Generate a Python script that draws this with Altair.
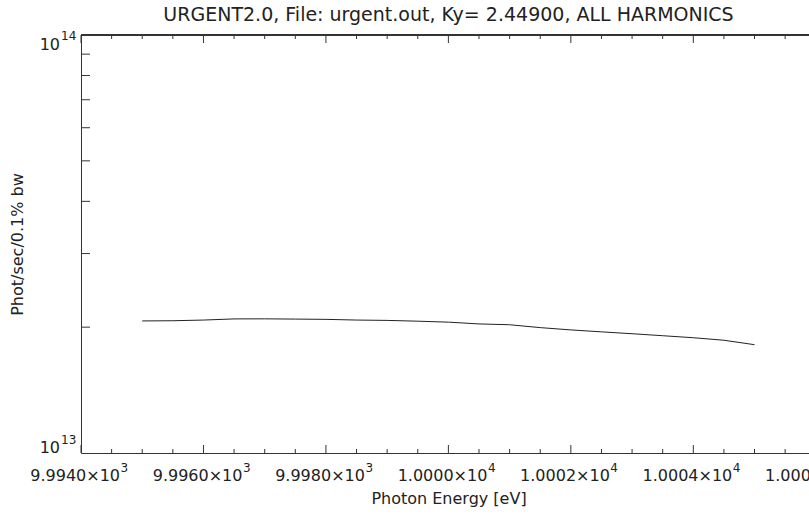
import altair as alt
import pandas as pd

# ---- data ----
energy = [9995.0, 9995.5, 9996.0, 9996.5, 9997.0, 9997.5, 9998.0, 9998.5, 9999.0, 9999.5,
          10000.0, 10000.5, 10001.0, 10001.5, 10002.0, 10002.5, 10003.0, 10003.5, 10004.0,
          10004.5, 10005.0]
flux_e13 = [2.070, 2.072, 2.080, 2.093, 2.094, 2.091, 2.088, 2.080, 2.076, 2.067,
            2.056, 2.036, 2.027, 1.995, 1.970, 1.949, 1.929, 1.908, 1.887, 1.861, 1.816]

x_major = [9994, 9996, 9998, 10000, 10002, 10004, 10006]
x_major_base = ["9.9940×10", "9.9960×10", "9.9980×10", "1.0000×10",
                "1.0002×10", "1.0004×10", "1.0006×10"]
x_major_exp = ["3", "3", "3", "4", "4", "4", "4"]
x_minor = [9994.5, 9995.0, 9995.5, 9996.5, 9997.0, 9997.5, 9998.5, 9999.0, 9999.5,
           10000.5, 10001.0, 10001.5, 10002.5, 10003.0, 10003.5, 10004.5, 10005.0, 10005.5]
y_major = [1e13, 1e14]
y_major_base = ["10", "10"]
y_major_exp = ["13", "14"]
y_minor = [2e13, 3e13, 4e13, 5e13, 6e13, 7e13, 8e13, 9e13]

title_text = "URGENT2.0,  File: urgent.out, Ky= 2.44900, ALL HARMONICS"
x_title = "Photon Energy [eV]"
y_title = "Phot/sec/0.1% bw"

W, H = 728, 418
PX_PER_EV = 61.23
X_MIN = 9994
X_MAX = X_MIN + W / PX_PER_EV   # plot continues past the right edge of the picture
FONT = "DejaVu Sans"
INK = "#222222"
AX = "#333333"

df = pd.DataFrame({"energy": energy, "flux": [v * 1e13 for v in flux_e13]})
df_xmaj = pd.DataFrame({"energy": x_major, "base": x_major_base, "exp": x_major_exp})
df_xmin = pd.DataFrame({"energy": x_minor})
df_ymin = pd.DataFrame({"flux": y_minor})
df_ymaj = pd.DataFrame({"flux": y_major, "base": y_major_base, "exp": y_major_exp})

x_enc = alt.X(
    "energy:Q",
    scale=alt.Scale(domain=[X_MIN, X_MAX], nice=False, zero=False),
    axis=alt.Axis(
        labels=False, ticks=False, tickSize=0, grid=False,
        domain=True, domainColor=AX, domainWidth=1,
        title=x_title, titleFont=FONT, titleFontSize=16, titleFontWeight="normal",
        titleColor=INK, titleX=(816 - 81) / 2, titleY=45, titleBaseline="middle",
        titleAlign="center",
    ),
)
y_enc = alt.Y(
    "flux:Q",
    scale=alt.Scale(type="log", domain=[1e13, 1e14], nice=False),
    axis=alt.Axis(
        labels=False, ticks=False, tickSize=0, grid=False,
        domain=True, domainColor=AX, domainWidth=1,
        title=y_title, titleFont=FONT, titleFontSize=16, titleFontWeight="normal",
        titleColor=INK, titleX=-64, titleY=H / 2, titleAngle=270,
        titleBaseline="middle", titleAlign="center",
    ),
)

line = alt.Chart(df).mark_line(color=INK, strokeWidth=1).encode(x=x_enc, y=y_enc)

tick_style = dict(color=AX, strokeWidth=1)
top_frame = alt.Chart(df_xmaj).mark_rule(**tick_style).encode(
    x=alt.value(0), x2=alt.value(W), y=alt.value(0))
xmaj_bot = alt.Chart(df_xmaj).mark_rule(**tick_style).encode(
    x=x_enc, y=alt.value(H), y2=alt.value(H - 8))
xmaj_top = alt.Chart(df_xmaj).mark_rule(**tick_style).encode(
    x=x_enc, y=alt.value(0), y2=alt.value(8))
xmin_bot = alt.Chart(df_xmin).mark_rule(**tick_style).encode(
    x=x_enc, y=alt.value(H), y2=alt.value(H - 4))
xmin_top = alt.Chart(df_xmin).mark_rule(**tick_style).encode(
    x=x_enc, y=alt.value(0), y2=alt.value(4))
ymin_left = alt.Chart(df_ymin).mark_rule(**tick_style).encode(
    y=y_enc, x=alt.value(0), x2=alt.value(9))

# x tick labels: mantissa + raised exponent
xlab_base = alt.Chart(df_xmaj).mark_text(
    font=FONT, fontSize=16, color=INK, align="right", baseline="alphabetic", dx=39
).encode(x=x_enc, y=alt.value(H + 28), text="base:N")
xlab_exp = alt.Chart(df_xmaj).mark_text(
    font=FONT, fontSize=12, color=INK, align="left", baseline="alphabetic", dx=39.5
).encode(x=x_enc, y=alt.value(H + 19), text="exp:N")

# y tick labels: bottom one sits on the axis, top one hangs below the top edge
ylab_base_bot = alt.Chart(df_ymaj).transform_filter("datum.flux < 5e13").mark_text(
    font=FONT, fontSize=16, color=INK, align="right", baseline="alphabetic", dx=-21
).encode(y=y_enc, x=alt.value(0), text="base:N")
ylab_exp_bot = alt.Chart(df_ymaj).transform_filter("datum.flux < 5e13").mark_text(
    font=FONT, fontSize=12, color=INK, align="left", baseline="alphabetic", dx=-20, dy=-9
).encode(y=y_enc, x=alt.value(0), text="exp:N")
ylab_base_top = alt.Chart(df_ymaj).transform_filter("datum.flux > 5e13").mark_text(
    font=FONT, fontSize=16, color=INK, align="right", baseline="alphabetic", dx=-21, dy=15
).encode(y=y_enc, x=alt.value(0), text="base:N")
ylab_exp_top = alt.Chart(df_ymaj).transform_filter("datum.flux > 5e13").mark_text(
    font=FONT, fontSize=12, color=INK, align="left", baseline="alphabetic", dx=-20, dy=5
).encode(y=y_enc, x=alt.value(0), text="exp:N")

chart = alt.layer(
    top_frame, xmaj_bot, xmaj_top, xmin_bot, xmin_top, ymin_left,
    xlab_base, xlab_exp, ylab_base_bot, ylab_exp_bot, ylab_base_top, ylab_exp_top,
    line,
).properties(
    width=W, height=H,
    title=alt.TitleParams(title_text, anchor="middle", frame="group", offset=5,
                          dx=(816 - 81) / 2 - W / 2,
                          font=FONT, fontSize=19, fontWeight="normal", color=INK),
    autosize=alt.AutoSizeParams(type="none"),
    padding={"left": 81, "top": 35, "right": 0, "bottom": 68},
).configure_view(
    stroke=None
).configure(background="white")

chart.save("out.html", embed_options={"renderer": "svg", "actions": False})
